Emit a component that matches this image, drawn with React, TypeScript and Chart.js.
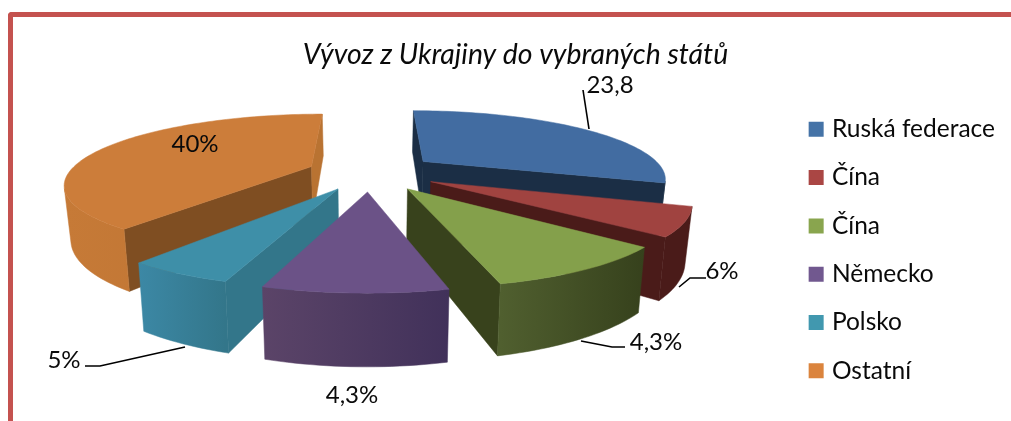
import React, { useEffect, useRef } from "react";
import { Chart, registerables } from "chart.js";

Chart.register(...registerables);

// Data
const categories = ["Ruská federace", "Čína", "Čína", "Německo", "Polsko", "Ostatní"];
const sliceShares = [30.2, 6.2, 9.7, 8.9, 5.3, 39.7];
const dataLabels = ["23,8", "6%", "4,3%", "4,3%", "5%", "40%"];
const chartTitle = "Vývoz z Ukrajiny do vybraných států";

// Styles
const legendColors = ["#4573a7", "#aa4644", "#89a54e", "#71588f", "#4198af", "#db843d"];
const topColors = ["#426ca1", "#a04340", "#84a04b", "#6b5287", "#3e8fa8", "#cc7d3a"];
const rimLeftColors = ["#1b2e45", "#4a1b19", "#505f2f", "#5b4468", "#3c88a5", "#c67a37"];
const rimRightColors = ["#1b2e45", "#4a1b19", "#36411c", "#41315a", "#33768a", "#bc7232"];
const startWallColors = ["#1b2e45", "#4a1b19", "#38421c", "#3f3054", "#33768a", "#7f4e22"];
const endWallColors = ["#1b2e45", "#4a1b19", "#38421c", "#3f3054", "#2f6e82", "#b97332"];
const explodeBySlice = [0.28, 0.28, 0.28, 0.28, 0.27, 0.26];
const paintOrder = [5, 0, 1, 2, 4, 3];

const FONT = "Lato, Carlito, Calibri, sans-serif";

// Projection of the exploded, perspective pie
const view = { cx: 370, cy: 172, a: 242, b: 66.8, p: 0.23, height: 52, squeeze: 0.978 };

const labelLayout = [
  { x: 610, y: 85, leader: [[583, 90], [589, 129]] },
  { x: 722, y: 271, leader: [[706, 278], [690, 278], [679, 287]] },
  { x: 656, y: 342, leader: [[625, 347], [612, 347], [581, 341]] },
  { x: 352, y: 395, leader: [] as number[][] },
  { x: 64, y: 360, leader: [[85, 366], [100, 366], [185, 347]] },
  { x: 195, y: 144, leader: [] as number[][] },
];

type P = [number, number];

const pie3d = {
  id: "pie3d",
  beforeDatasetsDraw(chart: any) {
    const ctx: CanvasRenderingContext2D = chart.ctx;
    const meta = chart.getDatasetMeta(0);
    const { cx, cy, a, b, p, height, squeeze } = view;

    for (const idx of paintOrder) {
      const arc = meta.data[idx];
      const { startAngle, endAngle } = arc.getProps(["startAngle", "endAngle"], true);
      const t0 = startAngle + Math.PI / 2;
      const t1 = endAngle + Math.PI / 2;
      const mid = (t0 + t1) / 2;
      const ox = explodeBySlice[idx] * Math.sin(mid);
      const oz = -explodeBySlice[idx] * Math.cos(mid);

      const top = (X: number, Z: number): P => {
        const w = 1 - p * Z;
        return [cx + (a * X) / w, cy + (b * Z) / w];
      };
      const bot = (X: number, Z: number): P => {
        const w = 1 - p * Z;
        return [cx + (squeeze * a * X) / w, cy + (b * Z + height) / w];
      };

      const steps = Math.max(8, Math.ceil((t1 - t0) * 40));
      const world: P[] = [];
      for (let i = 0; i <= steps; i++) {
        const t = t0 + ((t1 - t0) * i) / steps;
        world.push([ox + Math.sin(t), oz - Math.cos(t)]);
      }
      const apex: P = [ox, oz];

      const area = (q: P[]) => {
        let s = 0;
        for (let i = 0; i < q.length; i++) {
          const n = q[(i + 1) % q.length];
          s += q[i][0] * n[1] - n[0] * q[i][1];
        }
        return s;
      };
      const fillPoly = (q: P[], style: string | CanvasGradient) => {
        ctx.beginPath();
        q.forEach((pt, i) => (i ? ctx.lineTo(pt[0], pt[1]) : ctx.moveTo(pt[0], pt[1])));
        ctx.closePath();
        ctx.fillStyle = style;
        ctx.strokeStyle = style;
        ctx.lineWidth = 0.5;
        ctx.fill();
        ctx.stroke();
      };
      const wall = (u: P, v: P, style: string) => {
        const q: P[] = [top(u[0], u[1]), top(v[0], v[1]), bot(v[0], v[1]), bot(u[0], u[1])];
        if (area(q) < 0) fillPoly(q, style);
      };

      wall(apex, world[0], startWallColors[idx]);
      wall(world[steps], apex, endWallColors[idx]);

      const xs = world.map((w) => top(w[0], w[1])[0]);
      const g = ctx.createLinearGradient(Math.min(...xs), 0, Math.max(...xs), 0);
      g.addColorStop(0, rimLeftColors[idx]);
      g.addColorStop(1, rimRightColors[idx]);
      let run: P[] = [];
      const flush = () => {
        if (run.length > 1) {
          fillPoly(
            [...run.map((w) => top(w[0], w[1])), ...run.slice().reverse().map((w) => bot(w[0], w[1]))],
            g
          );
        }
        run = [];
      };
      for (let i = 0; i < steps; i++) {
        const u = world[i];
        const v = world[i + 1];
        const q: P[] = [top(u[0], u[1]), top(v[0], v[1]), bot(v[0], v[1]), bot(u[0], u[1])];
        if (area(q) < 0) {
          if (!run.length) run.push(u);
          run.push(v);
        } else {
          flush();
        }
      }
      flush();

      fillPoly([top(apex[0], apex[1]), ...world.map((w) => top(w[0], w[1]))], topColors[idx]);
    }
    return false;
  },
  afterDraw(chart: any) {
    const ctx: CanvasRenderingContext2D = chart.ctx;
    ctx.save();
    ctx.font = `24px ${FONT}`;
    ctx.fillStyle = "#0a0a0a";
    ctx.textAlign = "center";
    ctx.textBaseline = "middle";
    dataLabels.forEach((text, i) => {
      const l = labelLayout[i];
      ctx.fillText(text, l.x, l.y);
      if (l.leader.length) {
        ctx.beginPath();
        l.leader.forEach((pt, k) => (k ? ctx.lineTo(pt[0], pt[1]) : ctx.moveTo(pt[0], pt[1])));
        ctx.strokeStyle = "#000000";
        ctx.lineWidth = 1.6;
        ctx.stroke();
      }
    });
    ctx.restore();
  },
};

export default function App() {
  const ref = useRef<HTMLCanvasElement>(null);

  useEffect(() => {
    document.body.style.margin = "0";
    document.body.style.background = "#ffffff";
    const chart = new Chart(ref.current!, {
      type: "pie",
      data: {
        labels: categories,
        datasets: [{ data: sliceShares, backgroundColor: legendColors }],
      },
      plugins: [pie3d],
      options: {
        responsive: false,
        animation: false,
        rotation: 0,
        layout: { padding: { left: 26, right: 6 } },
        plugins: {
          tooltip: { enabled: false },
          title: {
            display: true,
            text: chartTitle,
            color: "#0a0a0a",
            font: { family: FONT, size: 28.4, style: "italic", weight: "normal" },
            padding: { top: 38, bottom: 7 },
          },
          legend: {
            position: "right",
            fullSize: false,
            labels: {
              font: { family: FONT, size: 24.5 },
              color: "#0a0a0a",
              boxWidth: 7,
              boxHeight: 7,
              padding: 23.8,
              generateLabels: () =>
                categories.map((text, i) => ({
                  text,
                  fillStyle: legendColors[i],
                  strokeStyle: legendColors[i],
                  lineWidth: 8,
                  hidden: false,
                  index: i,
                  fontColor: "#0a0a0a",
                })),
            },
          },
        },
      },
    } as any);
    return () => chart.destroy();
  }, []);

  return (
    <div style={{ position: "fixed", left: 0, top: 0, width: 1011, height: 421, overflow: "hidden", background: "#fff" }}>
      <canvas ref={ref} width={1011} height={421} style={{ display: "block" }} />
      <div
        style={{
          position: "absolute",
          left: 8,
          top: 12,
          width: 1003,
          height: 409,
          boxSizing: "border-box",
          borderTop: "5px solid #c4524f",
          borderLeft: "5px solid #c4524f",
          borderTopLeftRadius: 4,
          pointerEvents: "none",
        }}
      />
    </div>
  );
}
